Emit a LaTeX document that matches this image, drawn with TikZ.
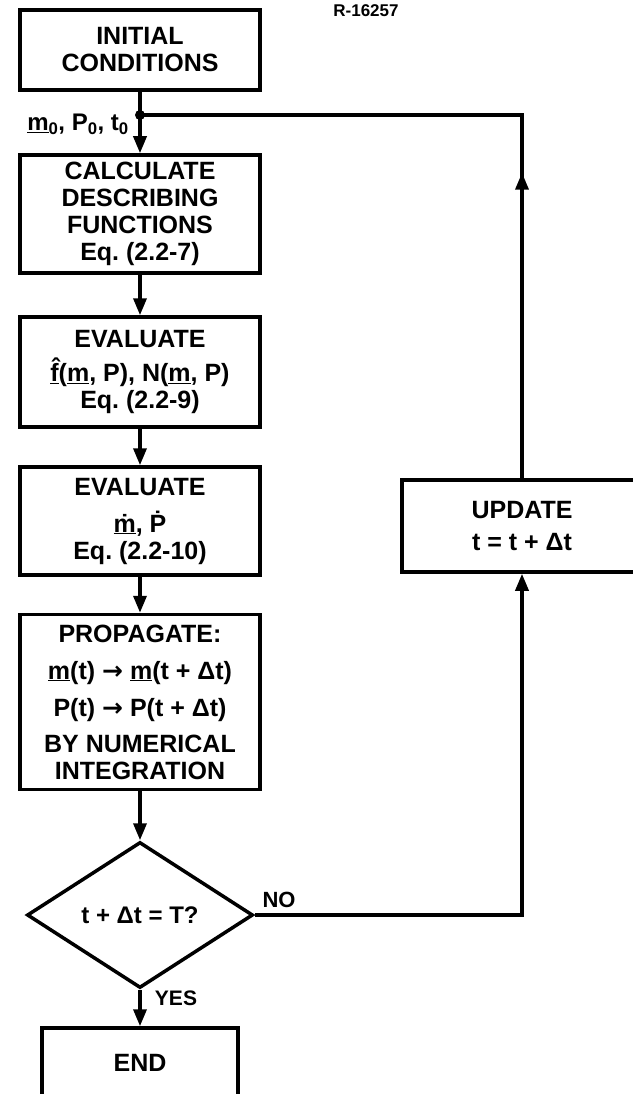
\documentclass[tikz,border=0pt]{standalone}
\usepackage{fontspec}
\setmainfont{Liberation Sans}
\newfontfamily\arrowfont{DejaVu Sans}
\newcommand{\goesto}{{\arrowfont\bfseries →}}
\usetikzlibrary{arrows.meta, shapes.geometric, decorations.markings}

\begin{document}
\begin{tikzpicture}[x=1pt, y=-1pt,
    box/.style={draw, line width=3.5pt, minimum width=240pt, minimum height=#1, align=center, inner sep=0pt, font=\fontsize{25}{27}\selectfont\bfseries\frenchspacing},
    decision/.style={draw, diamond, aspect=1.55, line width=3.5pt, minimum width=226pt, minimum height=146pt, inner sep=0pt, font=\fontsize{24}{27}\selectfont\bfseries},
    lbl/.style={inner sep=0pt, font=\fontsize{#1}{26}\selectfont\bfseries},
    wire/.style={line width=3.5pt},
    arrow/.style={-{Triangle[length=17pt, width=13pt]}, line width=3.5pt},
    midarrow/.style={line width=3.5pt, postaction={decorate}, decoration={markings, mark=at position #1 with {\arrow{Triangle[length=17pt, width=13pt]}}}}
]
\useasboundingbox (0,0) rectangle (632,1094);

\node[lbl=17] (ref) at (366,11) {R-16257};

\node[box=80pt] (init) at (140,50) {INITIAL\\CONDITIONS};
\coordinate (junc) at (140,115);
\node[lbl=24, anchor=east] (initvals) at (129,124) {\underline{m}\textsubscript{0}, P\textsubscript{0}, t\textsubscript{0}};
\node[box=118pt] (calc) at (140,214) {CALCULATE\\DESCRIBING\\FUNCTIONS\\Eq. (2.2-7)};
\node[box=110pt] (evalf) at (140,372) {EVALUATE\\[7pt]\underline{\^{f}}(\underline{m}, P), N(\underline{m}, P)\\Eq. (2.2-9)};
\node[box=108pt] (evalm) at (140,521) {EVALUATE\\[10pt]\underline{ṁ}, Ṗ\\Eq. (2.2-10)};
\node[box=175pt] (prop) at (140,702) {PROPAGATE:\\[10pt]\underline{m}(t) \goesto{} \underline{m}(t + Δt)\\[10pt]P(t) \goesto{} P(t + Δt)\\[9pt]BY NUMERICAL\\INTEGRATION};
\node[decision] (check) at (140,915) {t + Δt = T?};
\node[box=70pt, minimum width=196pt] (done) at (140,1063) {END};
\node[box=92pt] (update) at (522,526) {UPDATE\\[5pt]t = t + Δt};

\node[lbl=22] (no) at (279,900) {NO};
\node[lbl=21] (yes) at (176,998) {YES};

\draw[wire] (init.south) -- (junc);
\fill (junc) circle (5pt);
\draw[arrow] (junc) -- (calc.north);
\draw[arrow] (calc.south) -- (evalf.north);
\draw[arrow] (evalf.south) -- (evalm.north);
\draw[arrow] (evalm.south) -- (prop.north);
\draw[arrow] (prop.south) -- (check.north);
\draw[arrow] (check.south) -- (done.north);
\draw[arrow] (check.east) -- (update.south |- check.east) -- (update.south);
\draw[midarrow=0.41] (update.north) -- (update.north |- junc) -- (junc);
\end{tikzpicture}
\end{document}
